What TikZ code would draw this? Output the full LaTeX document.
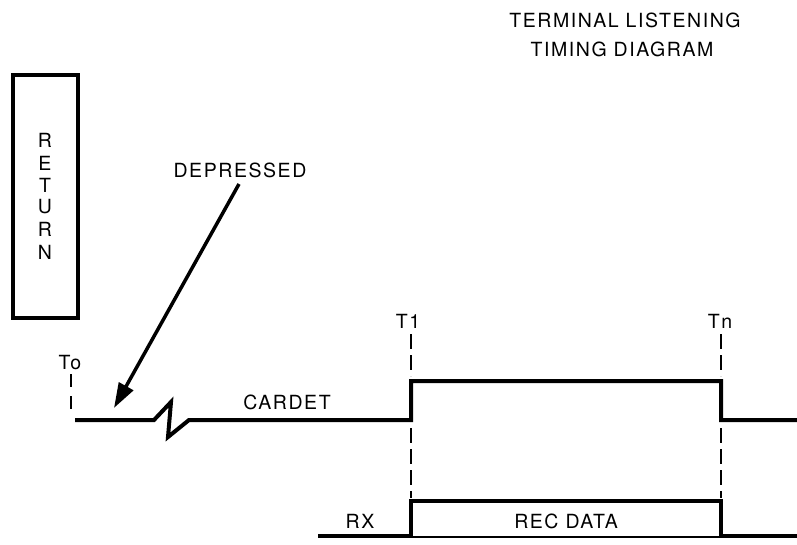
\documentclass[tikz,border=0pt]{standalone}
\usepackage{fontspec}
\setmainfont{TeX Gyre Heros}[LetterSpace=8]
\usetikzlibrary{arrows.meta}
\begin{document}
\begin{tikzpicture}[x=1pt,y=-1pt,
  lbl/.style={font=\fontsize{19.5}{22}\selectfont, inner sep=0pt},
  sig/.style={line width=4pt, line join=miter},
  timemark/.style={line width=2.8pt, dash pattern=on 15pt off 6pt},
  letter/.style={font=\fontsize{19.5}{22}\selectfont, inner sep=0pt}]
\useasboundingbox (0,0) rectangle (797,544);
% title
\node[lbl] (t1) at (625,20) {TERMINAL LISTENING};
\node[lbl] (t2) at (622,49) {TIMING DIAGRAM};
% RETURN key
\node[draw, line width=3.5pt, minimum width=65pt, minimum height=243pt, inner sep=0pt] (key) at (45.5,196.5) {};
\foreach \l/\yy in {R/140, E/163, T/185, U/207, R/229, N/252}
  \node[letter] at (45,\yy) {\l};
% depressed
\node[lbl] (dep) at (240,170) {DEPRESSED};
\coordinate (arrs) at (239,184);
\coordinate (arre) at (114,408);
\draw[line width=3.5pt, -{Triangle[length=25pt,width=16pt]}] (arrs) -- (arre);
% To
\node[lbl] (to) at (70,363) {To};
\coordinate (toa) at (71,374);
\coordinate (tob) at (71,410);
\draw[line width=2.8pt, dash pattern=on 13pt off 9pt] (toa) -- (tob);
% CARDET signal
\coordinate (c0) at (75,420);
\draw[sig] (c0) -- (154,420) -- (171,402) -- (168,437) -- (189,420) -- (411,420)
  -- (411,381) -- (721,381) -- (721,420) -- (797,420);
\node[lbl] (card) at (287,402) {CARDET};
% T1, Tn
\node[lbl] (T1) at (408,321) {T1};
\node[lbl] (Tn) at (720,321) {Tn};
\draw[timemark] (411,334) -- (411,376);
\draw[timemark] (411,428) -- (411,498);
\draw[timemark] (721,334) -- (721,376);
\draw[timemark] (721,428) -- (721,498);
% RX signal
\draw[sig] (318,536) -- (411,536) -- (411,501) -- (721,501) -- (721,536) -- (797,536);
\draw[line width=2.5pt] (413,537) -- (719,537);
\node[lbl] (rx) at (360,521) {RX};
\node[lbl] (rec) at (566,521) {REC DATA};
\end{tikzpicture}
\end{document}
